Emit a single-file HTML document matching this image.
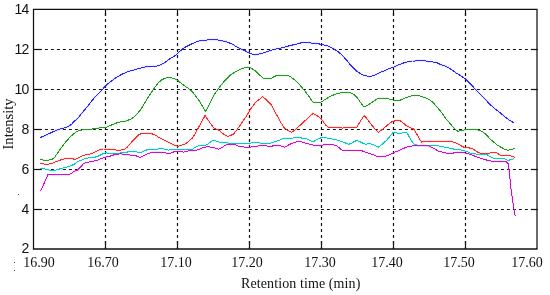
<!DOCTYPE html>
<html><head><meta charset="utf-8"><style>
.yl,.xl,.xt{will-change:transform;}
html,body{margin:0;padding:0;background:#fff;width:550px;height:295px;overflow:hidden;}
svg{position:absolute;left:0;top:0;}
.g{stroke:#111;stroke-width:1.2;stroke-dasharray:3 3;stroke-dashoffset:0.6;}
.gv{stroke-dashoffset:1;}
.t{stroke:#111;stroke-width:1.2;}
.yl{position:absolute;left:0;width:28.6px;text-align:right;font-family:"Liberation Sans",sans-serif;font-size:14px;letter-spacing:-0.8px;line-height:16px;color:#111;}
.xl{position:absolute;top:255px;width:60px;text-align:center;font-family:"Liberation Serif",serif;font-size:14px;line-height:16px;color:#111;}
.xt{position:absolute;left:241px;top:276px;letter-spacing:0.1px;font-family:"Liberation Serif",serif;font-size:14px;line-height:16px;color:#111;white-space:nowrap;}
.yt{position:absolute;left:-18px;top:115.5px;width:51px;transform:rotate(-90deg);transform-origin:center;font-family:"Liberation Serif",serif;font-size:14.6px;line-height:16px;color:#111;white-space:nowrap;text-align:center;}
</style></head><body>
<svg width="550" height="295" viewBox="0 0 550 295">
<line x1="33.5" y1="49.5" x2="537.5" y2="49.5" class="g"/>
<line x1="33.5" y1="49.5" x2="41.5" y2="49.5" class="t"/>
<line x1="531.0" y1="49.5" x2="537.5" y2="49.5" class="t"/>
<line x1="33.5" y1="89.5" x2="537.5" y2="89.5" class="g"/>
<line x1="33.5" y1="89.5" x2="41.5" y2="89.5" class="t"/>
<line x1="531.0" y1="89.5" x2="537.5" y2="89.5" class="t"/>
<line x1="33.5" y1="129.5" x2="537.5" y2="129.5" class="g"/>
<line x1="33.5" y1="129.5" x2="41.5" y2="129.5" class="t"/>
<line x1="531.0" y1="129.5" x2="537.5" y2="129.5" class="t"/>
<line x1="33.5" y1="169.5" x2="537.5" y2="169.5" class="g"/>
<line x1="33.5" y1="169.5" x2="41.5" y2="169.5" class="t"/>
<line x1="531.0" y1="169.5" x2="537.5" y2="169.5" class="t"/>
<line x1="33.5" y1="209.5" x2="537.5" y2="209.5" class="g"/>
<line x1="33.5" y1="209.5" x2="41.5" y2="209.5" class="t"/>
<line x1="531.0" y1="209.5" x2="537.5" y2="209.5" class="t"/>
<line x1="105.5" y1="249.0" x2="105.5" y2="9.4" class="g gv"/>
<line x1="105.5" y1="249.0" x2="105.5" y2="241.0" class="t"/>
<line x1="105.5" y1="9.4" x2="105.5" y2="15.4" class="t"/>
<line x1="177.5" y1="249.0" x2="177.5" y2="9.4" class="g gv"/>
<line x1="177.5" y1="249.0" x2="177.5" y2="241.0" class="t"/>
<line x1="177.5" y1="9.4" x2="177.5" y2="15.4" class="t"/>
<line x1="249.5" y1="249.0" x2="249.5" y2="9.4" class="g gv"/>
<line x1="249.5" y1="249.0" x2="249.5" y2="241.0" class="t"/>
<line x1="249.5" y1="9.4" x2="249.5" y2="15.4" class="t"/>
<line x1="321.5" y1="249.0" x2="321.5" y2="9.4" class="g gv"/>
<line x1="321.5" y1="249.0" x2="321.5" y2="241.0" class="t"/>
<line x1="321.5" y1="9.4" x2="321.5" y2="15.4" class="t"/>
<line x1="393.5" y1="249.0" x2="393.5" y2="9.4" class="g gv"/>
<line x1="393.5" y1="249.0" x2="393.5" y2="241.0" class="t"/>
<line x1="393.5" y1="9.4" x2="393.5" y2="15.4" class="t"/>
<line x1="465.5" y1="249.0" x2="465.5" y2="9.4" class="g gv"/>
<line x1="465.5" y1="249.0" x2="465.5" y2="241.0" class="t"/>
<line x1="465.5" y1="9.4" x2="465.5" y2="15.4" class="t"/>
<path d="M33.5,249.0 V9.4 H537.0 V249.0" fill="none" stroke="#111" stroke-width="1.25"/>
<line x1="32.9" y1="249.0" x2="537.5" y2="249.0" stroke="#111" stroke-width="1.7"/>
<polyline points="40.4,137.5 45.2,135.5 49.9,133.3 55.3,130.7 60.1,129.0 64.2,127.9 68.2,126.5 71.6,124.2 73.1,122.6 78.6,117.2 82.6,112.4 88.1,105.6 93.5,98.8 98.2,94.1 102.3,89.6 105.4,85.9 110.8,81.4 116.3,77.4 121.7,74.4 128.5,71.3 133.9,70.0 139.1,68.5 143.1,67.5 147.9,66.4 152.6,66.2 156.7,66.2 160.1,65.1 164.2,63.1 168.2,60.1 171.6,57.6 173.4,56.8 176.8,54.4 180.2,51.0 184.2,47.6 189.0,45.2 193.1,43.3 197.8,41.1 202.5,40.6 206.6,40.2 209.1,39.5 215.2,39.5 218.6,40.2 225.3,41.5 229.4,42.9 233.5,44.9 237.5,47.4 241.6,49.3 244.1,50.3 248.1,52.4 252.2,54.1 254.9,54.7 259.0,54.1 263.1,53.1 267.1,51.7 271.9,50.1 275.9,49.0 280.4,48.3 285.8,46.7 291.3,45.3 296.7,44.0 302.1,42.6 306.2,42.4 309.6,42.6 311.6,43.3 315.4,43.3 319.5,44.0 323.6,44.9 327.6,46.0 331.7,47.6 335.8,50.1 339.8,53.1 343.9,57.1 347.3,60.9 349.1,63.3 353.1,67.8 357.9,72.1 362.6,74.8 367.4,76.2 370.8,76.5 374.8,75.1 378.9,73.2 382.3,71.4 384.1,71.0 388.1,69.1 392.9,67.4 397.6,65.3 402.4,63.3 407.1,62.0 412.5,61.0 415.0,61.0 419.1,60.6 424.5,60.6 428.6,61.5 432.6,62.0 436.7,62.6 440.8,64.7 444.8,66.0 448.9,68.1 452.5,70.2 456.1,73.1 460.2,75.4 465.1,78.6 470.2,83.7 475.3,89.1 480.3,94.4 485.4,99.5 489.1,103.6 493.8,107.9 498.6,111.5 504.0,116.0 508.7,119.8 511.4,121.4 514.2,122.8" fill="none" stroke="#2a2aff" stroke-opacity="0.15" stroke-width="2.0" stroke-linejoin="round"/>
<polyline points="40.4,137.5 45.2,135.5 49.9,133.3 55.3,130.7 60.1,129.0 64.2,127.9 68.2,126.5 71.6,124.2 73.1,122.6 78.6,117.2 82.6,112.4 88.1,105.6 93.5,98.8 98.2,94.1 102.3,89.6 105.4,85.9 110.8,81.4 116.3,77.4 121.7,74.4 128.5,71.3 133.9,70.0 139.1,68.5 143.1,67.5 147.9,66.4 152.6,66.2 156.7,66.2 160.1,65.1 164.2,63.1 168.2,60.1 171.6,57.6 173.4,56.8 176.8,54.4 180.2,51.0 184.2,47.6 189.0,45.2 193.1,43.3 197.8,41.1 202.5,40.6 206.6,40.2 209.1,39.5 215.2,39.5 218.6,40.2 225.3,41.5 229.4,42.9 233.5,44.9 237.5,47.4 241.6,49.3 244.1,50.3 248.1,52.4 252.2,54.1 254.9,54.7 259.0,54.1 263.1,53.1 267.1,51.7 271.9,50.1 275.9,49.0 280.4,48.3 285.8,46.7 291.3,45.3 296.7,44.0 302.1,42.6 306.2,42.4 309.6,42.6 311.6,43.3 315.4,43.3 319.5,44.0 323.6,44.9 327.6,46.0 331.7,47.6 335.8,50.1 339.8,53.1 343.9,57.1 347.3,60.9 349.1,63.3 353.1,67.8 357.9,72.1 362.6,74.8 367.4,76.2 370.8,76.5 374.8,75.1 378.9,73.2 382.3,71.4 384.1,71.0 388.1,69.1 392.9,67.4 397.6,65.3 402.4,63.3 407.1,62.0 412.5,61.0 415.0,61.0 419.1,60.6 424.5,60.6 428.6,61.5 432.6,62.0 436.7,62.6 440.8,64.7 444.8,66.0 448.9,68.1 452.5,70.2 456.1,73.1 460.2,75.4 465.1,78.6 470.2,83.7 475.3,89.1 480.3,94.4 485.4,99.5 489.1,103.6 493.8,107.9 498.6,111.5 504.0,116.0 508.7,119.8 511.4,121.4 514.2,122.8" fill="none" stroke="#2a2aff" stroke-width="1.0" stroke-linejoin="round" shape-rendering="crispEdges"/>
<polyline points="39.7,158.9 43.1,160.0 47.2,160.3 51.3,159.6 54.0,158.2 56.7,154.2 60.1,149.4 63.5,144.7 66.9,140.6 70.3,136.9 73.4,134.2 76.8,131.4 80.2,130.3 83.6,129.7 89.0,129.4 94.4,128.7 99.2,128.0 103.9,127.6 107.3,126.9 109.1,125.9 113.8,124.2 118.6,122.1 122.6,121.8 126.7,120.8 130.8,119.1 134.2,117.0 138.2,112.6 141.0,109.3 144.1,103.9 147.5,98.5 150.8,93.1 154.2,88.3 157.6,83.6 161.7,79.8 165.8,78.1 169.8,77.5 173.9,78.4 176.6,79.5 179.1,81.6 183.8,85.2 188.6,88.6 192.6,92.0 196.7,97.4 200.1,102.1 202.8,106.9 205.5,111.3 208.2,106.9 211.5,99.8 214.7,93.9 218.1,89.2 222.2,83.7 226.3,79.0 230.3,75.2 235.1,71.9 239.8,69.5 243.9,67.9 247.3,67.1 250.0,67.5 252.1,68.8 256.1,71.5 259.5,74.9 262.9,78.0 267.0,78.3 271.1,78.3 274.4,76.5 277.2,75.2 281.9,75.2 285.0,75.4 289.1,76.1 292.5,78.1 295.8,80.8 299.2,84.2 302.6,88.3 306.0,92.4 309.4,97.1 312.8,101.9 316.2,102.5 320.5,102.5 324.1,100.1 328.1,97.6 332.9,95.2 337.6,93.6 342.4,92.6 347.1,92.5 350.5,92.9 353.9,94.6 356.6,96.9 359.7,101.3 363.8,107.0 367.9,105.1 372.6,102.0 378.1,98.2 382.1,98.2 386.9,98.3 390.5,99.4 393.4,100.2 400.2,100.2 404.2,98.3 409.0,96.5 414.4,95.2 419.8,95.8 423.9,97.2 427.3,98.6 430.0,99.8 433.8,103.4 437.9,107.9 442.0,113.3 446.0,118.7 450.1,123.5 454.2,128.2 457.5,131.1 460.9,130.8 464.7,129.9 469.5,129.2 474.9,129.2 479.0,130.2 483.1,132.0 486.4,134.7 489.8,138.7 493.9,142.3 497.3,145.1 500.0,146.7 504.2,149.0 507.7,150.4 510.3,149.7 512.3,149.2 514.3,148.1" fill="none" stroke="#259a25" stroke-opacity="0.15" stroke-width="2.0" stroke-linejoin="round"/>
<polyline points="39.7,158.9 43.1,160.0 47.2,160.3 51.3,159.6 54.0,158.2 56.7,154.2 60.1,149.4 63.5,144.7 66.9,140.6 70.3,136.9 73.4,134.2 76.8,131.4 80.2,130.3 83.6,129.7 89.0,129.4 94.4,128.7 99.2,128.0 103.9,127.6 107.3,126.9 109.1,125.9 113.8,124.2 118.6,122.1 122.6,121.8 126.7,120.8 130.8,119.1 134.2,117.0 138.2,112.6 141.0,109.3 144.1,103.9 147.5,98.5 150.8,93.1 154.2,88.3 157.6,83.6 161.7,79.8 165.8,78.1 169.8,77.5 173.9,78.4 176.6,79.5 179.1,81.6 183.8,85.2 188.6,88.6 192.6,92.0 196.7,97.4 200.1,102.1 202.8,106.9 205.5,111.3 208.2,106.9 211.5,99.8 214.7,93.9 218.1,89.2 222.2,83.7 226.3,79.0 230.3,75.2 235.1,71.9 239.8,69.5 243.9,67.9 247.3,67.1 250.0,67.5 252.1,68.8 256.1,71.5 259.5,74.9 262.9,78.0 267.0,78.3 271.1,78.3 274.4,76.5 277.2,75.2 281.9,75.2 285.0,75.4 289.1,76.1 292.5,78.1 295.8,80.8 299.2,84.2 302.6,88.3 306.0,92.4 309.4,97.1 312.8,101.9 316.2,102.5 320.5,102.5 324.1,100.1 328.1,97.6 332.9,95.2 337.6,93.6 342.4,92.6 347.1,92.5 350.5,92.9 353.9,94.6 356.6,96.9 359.7,101.3 363.8,107.0 367.9,105.1 372.6,102.0 378.1,98.2 382.1,98.2 386.9,98.3 390.5,99.4 393.4,100.2 400.2,100.2 404.2,98.3 409.0,96.5 414.4,95.2 419.8,95.8 423.9,97.2 427.3,98.6 430.0,99.8 433.8,103.4 437.9,107.9 442.0,113.3 446.0,118.7 450.1,123.5 454.2,128.2 457.5,131.1 460.9,130.8 464.7,129.9 469.5,129.2 474.9,129.2 479.0,130.2 483.1,132.0 486.4,134.7 489.8,138.7 493.9,142.3 497.3,145.1 500.0,146.7 504.2,149.0 507.7,150.4 510.3,149.7 512.3,149.2 514.3,148.1" fill="none" stroke="#259a25" stroke-width="1.0" stroke-linejoin="round" shape-rendering="crispEdges"/>
<polyline points="40.4,163.1 44.5,164.2 48.6,164.2 52.6,163.1 56.7,161.5 61.4,159.7 66.2,158.4 71.6,158.4 74.7,159.4 78.1,158.1 82.2,156.0 86.3,154.7 90.3,154.0 94.4,152.4 98.5,150.2 102.5,149.0 110.4,149.1 114.5,149.7 117.2,150.4 120.6,150.1 124.0,149.4 126.7,147.8 129.4,144.7 132.1,141.5 135.5,137.9 138.9,134.8 141.6,133.4 145.4,133.1 150.8,133.4 154.9,134.8 159.0,137.5 163.7,139.9 168.5,142.4 173.2,144.7 177.5,146.3 181.1,145.5 185.2,143.9 189.2,140.9 192.6,137.8 195.3,133.7 198.1,128.3 201.4,122.2 205.1,115.4 208.2,120.2 211.3,124.5 214.1,128.3 218.1,129.6 221.5,132.4 224.9,135.1 227.6,136.4 230.3,135.6 233.7,134.0 236.4,130.6 239.2,126.5 242.5,121.8 245.5,117.6 247.7,114.1 251.1,108.3 255.8,102.2 259.2,99.5 262.6,96.5 266.7,100.2 270.8,104.2 274.2,110.3 277.5,116.4 280.9,122.5 284.3,128.0 288.1,130.5 291.5,132.4 294.9,130.1 298.3,126.7 301.7,124.0 305.1,120.6 309.2,116.9 313.2,113.3 316.6,115.4 321.1,118.6 323.8,122.4 325.8,125.1 327.9,127.0 332.6,127.0 338.7,127.4 342.1,128.1 346.2,127.4 356.8,127.2 360.2,121.6 364.2,115.5 367.6,119.5 371.7,125.0 375.1,129.0 378.5,132.4 381.9,129.7 385.3,127.0 388.4,124.2 391.8,121.8 395.2,120.8 398.6,120.1 402.0,121.8 405.3,124.9 408.7,126.9 412.1,128.3 414.2,129.4 416.9,134.4 419.6,139.1 421.6,142.1 425.4,141.3 450.5,141.3 455.3,142.6 458.4,144.2 461.8,146.1 465.2,147.9 468.6,147.9 471.9,148.3 475.3,150.6 478.7,152.9 482.1,153.3 485.5,154.0 488.2,153.7 490.9,152.6 495.0,152.6 497.5,153.2 500.1,155.1 503.1,155.3 509.2,155.6 511.8,156.3 513.8,156.8 514.8,157.5" fill="none" stroke="#ff2a2a" stroke-opacity="0.15" stroke-width="2.0" stroke-linejoin="round"/>
<polyline points="40.4,163.1 44.5,164.2 48.6,164.2 52.6,163.1 56.7,161.5 61.4,159.7 66.2,158.4 71.6,158.4 74.7,159.4 78.1,158.1 82.2,156.0 86.3,154.7 90.3,154.0 94.4,152.4 98.5,150.2 102.5,149.0 110.4,149.1 114.5,149.7 117.2,150.4 120.6,150.1 124.0,149.4 126.7,147.8 129.4,144.7 132.1,141.5 135.5,137.9 138.9,134.8 141.6,133.4 145.4,133.1 150.8,133.4 154.9,134.8 159.0,137.5 163.7,139.9 168.5,142.4 173.2,144.7 177.5,146.3 181.1,145.5 185.2,143.9 189.2,140.9 192.6,137.8 195.3,133.7 198.1,128.3 201.4,122.2 205.1,115.4 208.2,120.2 211.3,124.5 214.1,128.3 218.1,129.6 221.5,132.4 224.9,135.1 227.6,136.4 230.3,135.6 233.7,134.0 236.4,130.6 239.2,126.5 242.5,121.8 245.5,117.6 247.7,114.1 251.1,108.3 255.8,102.2 259.2,99.5 262.6,96.5 266.7,100.2 270.8,104.2 274.2,110.3 277.5,116.4 280.9,122.5 284.3,128.0 288.1,130.5 291.5,132.4 294.9,130.1 298.3,126.7 301.7,124.0 305.1,120.6 309.2,116.9 313.2,113.3 316.6,115.4 321.1,118.6 323.8,122.4 325.8,125.1 327.9,127.0 332.6,127.0 338.7,127.4 342.1,128.1 346.2,127.4 356.8,127.2 360.2,121.6 364.2,115.5 367.6,119.5 371.7,125.0 375.1,129.0 378.5,132.4 381.9,129.7 385.3,127.0 388.4,124.2 391.8,121.8 395.2,120.8 398.6,120.1 402.0,121.8 405.3,124.9 408.7,126.9 412.1,128.3 414.2,129.4 416.9,134.4 419.6,139.1 421.6,142.1 425.4,141.3 450.5,141.3 455.3,142.6 458.4,144.2 461.8,146.1 465.2,147.9 468.6,147.9 471.9,148.3 475.3,150.6 478.7,152.9 482.1,153.3 485.5,154.0 488.2,153.7 490.9,152.6 495.0,152.6 497.5,153.2 500.1,155.1 503.1,155.3 509.2,155.6 511.8,156.3 513.8,156.8 514.8,157.5" fill="none" stroke="#ff2a2a" stroke-width="1.0" stroke-linejoin="round" shape-rendering="crispEdges"/>
<polyline points="40.4,168.6 44.5,168.8 48.6,169.9 52.6,171.0 56.7,169.9 60.8,168.6 64.8,167.5 68.9,166.5 73.0,164.8 75.0,163.8 78.1,161.4 82.2,159.8 86.3,158.3 90.3,157.4 94.4,157.4 98.5,156.0 102.5,154.0 105.3,152.9 113.1,153.3 118.6,153.2 122.6,152.8 126.7,152.1 130.8,151.6 134.2,151.4 137.5,152.1 140.9,152.6 144.1,151.0 148.1,149.4 153.6,149.4 157.6,149.1 161.0,148.3 164.4,149.1 168.5,150.1 172.5,149.7 176.6,149.4 192.6,149.3 195.3,147.3 198.7,145.5 205.5,145.5 208.2,143.9 211.6,141.2 213.4,140.1 216.1,141.2 219.5,142.1 224.9,142.8 231.7,143.2 236.5,143.5 249.6,143.5 252.9,142.4 258.4,142.4 260.5,143.3 270.3,143.3 273.6,142.2 278.0,140.7 282.3,139.0 285.6,138.2 290.8,138.1 297.6,137.8 305.1,138.2 309.2,140.0 313.2,141.9 316.6,139.6 320.0,138.2 322.5,137.3 325.8,137.8 329.9,138.6 335.3,139.6 340.1,140.9 344.8,142.7 348.9,144.3 352.3,142.7 356.8,140.3 360.2,141.9 363.6,143.5 366.3,144.3 369.7,143.3 374.1,145.2 378.1,147.2 382.2,144.2 386.3,140.6 390.4,135.8 393.1,132.3 396.5,133.0 399.9,133.4 403.3,132.6 406.7,132.3 409.4,137.1 412.1,141.6 414.2,144.5 417.5,145.2 421.6,145.6 429.5,145.9 432.9,145.4 437.6,145.6 442.4,146.7 447.1,147.7 451.9,148.6 455.5,149.5 459.1,149.9 463.1,150.2 466.5,151.5 469.9,152.9 474.0,153.7 478.1,154.3 486.2,154.3 490.3,156.7 493.0,158.1 495.0,158.3 500.1,158.5 504.2,158.8 507.2,160.1 509.2,160.1 511.3,159.3 514.3,158.8" fill="none" stroke="#08c8c8" stroke-opacity="0.15" stroke-width="2.0" stroke-linejoin="round"/>
<polyline points="40.4,168.6 44.5,168.8 48.6,169.9 52.6,171.0 56.7,169.9 60.8,168.6 64.8,167.5 68.9,166.5 73.0,164.8 75.0,163.8 78.1,161.4 82.2,159.8 86.3,158.3 90.3,157.4 94.4,157.4 98.5,156.0 102.5,154.0 105.3,152.9 113.1,153.3 118.6,153.2 122.6,152.8 126.7,152.1 130.8,151.6 134.2,151.4 137.5,152.1 140.9,152.6 144.1,151.0 148.1,149.4 153.6,149.4 157.6,149.1 161.0,148.3 164.4,149.1 168.5,150.1 172.5,149.7 176.6,149.4 192.6,149.3 195.3,147.3 198.7,145.5 205.5,145.5 208.2,143.9 211.6,141.2 213.4,140.1 216.1,141.2 219.5,142.1 224.9,142.8 231.7,143.2 236.5,143.5 249.6,143.5 252.9,142.4 258.4,142.4 260.5,143.3 270.3,143.3 273.6,142.2 278.0,140.7 282.3,139.0 285.6,138.2 290.8,138.1 297.6,137.8 305.1,138.2 309.2,140.0 313.2,141.9 316.6,139.6 320.0,138.2 322.5,137.3 325.8,137.8 329.9,138.6 335.3,139.6 340.1,140.9 344.8,142.7 348.9,144.3 352.3,142.7 356.8,140.3 360.2,141.9 363.6,143.5 366.3,144.3 369.7,143.3 374.1,145.2 378.1,147.2 382.2,144.2 386.3,140.6 390.4,135.8 393.1,132.3 396.5,133.0 399.9,133.4 403.3,132.6 406.7,132.3 409.4,137.1 412.1,141.6 414.2,144.5 417.5,145.2 421.6,145.6 429.5,145.9 432.9,145.4 437.6,145.6 442.4,146.7 447.1,147.7 451.9,148.6 455.5,149.5 459.1,149.9 463.1,150.2 466.5,151.5 469.9,152.9 474.0,153.7 478.1,154.3 486.2,154.3 490.3,156.7 493.0,158.1 495.0,158.3 500.1,158.5 504.2,158.8 507.2,160.1 509.2,160.1 511.3,159.3 514.3,158.8" fill="none" stroke="#08c8c8" stroke-width="1.0" stroke-linejoin="round" shape-rendering="crispEdges"/>
<polyline points="40.4,191.3 43.1,185.5 45.8,179.4 47.9,174.7 62.1,174.7 69.6,174.4 72.3,172.6 75.0,171.0 77.5,170.0 80.2,167.5 83.6,163.5 87.6,162.4 91.7,161.4 95.8,160.8 99.2,159.4 102.5,158.1 105.9,157.0 109.1,156.5 113.1,155.1 117.2,154.2 121.3,153.7 124.0,154.8 132.1,155.1 136.2,155.9 140.3,157.5 143.6,155.9 148.8,153.2 153.6,152.1 159.0,152.1 164.4,152.4 167.1,153.5 169.8,153.5 173.2,152.1 176.6,151.2 180.0,151.0 183.6,152.1 189.0,150.8 197.1,150.1 202.1,148.0 207.5,146.6 211.6,147.3 215.4,148.2 218.8,149.2 222.2,147.5 225.6,145.1 229.0,144.2 235.5,144.7 237.6,145.8 240.9,146.6 246.4,147.4 249.6,147.4 252.9,146.6 256.2,146.4 260.5,145.3 264.9,145.5 268.2,146.4 271.4,146.4 274.7,145.3 279.1,145.5 282.3,146.4 284.5,147.4 286.7,146.1 290.0,144.2 293.6,142.7 299.0,141.3 303.1,142.3 307.1,143.6 312.5,145.0 320.6,145.7 325.7,144.3 330.8,144.5 335.3,145.3 337.5,146.4 341.8,150.0 347.3,150.2 359.3,150.2 363.6,151.3 369.1,153.6 373.1,154.5 377.1,156.4 385.3,156.4 388.3,155.2 392.4,153.3 396.5,151.5 400.5,149.8 404.6,148.0 406.6,147.2 412.1,145.9 428.8,145.9 433.6,148.3 438.3,151.1 443.1,152.4 448.5,153.5 453.2,153.1 456.6,152.1 460.4,152.0 464.5,152.9 468.6,154.0 472.6,155.1 476.7,157.0 480.8,158.3 484.8,159.4 488.9,160.8 493.0,161.3 501.0,161.2 504.2,161.5 506.7,162.0 508.3,164.0 509.1,170.2 510.2,180.3 511.2,190.5 512.7,200.5 513.9,208.8 515.2,216.0" fill="none" stroke="#cc10cc" stroke-opacity="0.15" stroke-width="2.0" stroke-linejoin="round"/>
<polyline points="40.4,191.3 43.1,185.5 45.8,179.4 47.9,174.7 62.1,174.7 69.6,174.4 72.3,172.6 75.0,171.0 77.5,170.0 80.2,167.5 83.6,163.5 87.6,162.4 91.7,161.4 95.8,160.8 99.2,159.4 102.5,158.1 105.9,157.0 109.1,156.5 113.1,155.1 117.2,154.2 121.3,153.7 124.0,154.8 132.1,155.1 136.2,155.9 140.3,157.5 143.6,155.9 148.8,153.2 153.6,152.1 159.0,152.1 164.4,152.4 167.1,153.5 169.8,153.5 173.2,152.1 176.6,151.2 180.0,151.0 183.6,152.1 189.0,150.8 197.1,150.1 202.1,148.0 207.5,146.6 211.6,147.3 215.4,148.2 218.8,149.2 222.2,147.5 225.6,145.1 229.0,144.2 235.5,144.7 237.6,145.8 240.9,146.6 246.4,147.4 249.6,147.4 252.9,146.6 256.2,146.4 260.5,145.3 264.9,145.5 268.2,146.4 271.4,146.4 274.7,145.3 279.1,145.5 282.3,146.4 284.5,147.4 286.7,146.1 290.0,144.2 293.6,142.7 299.0,141.3 303.1,142.3 307.1,143.6 312.5,145.0 320.6,145.7 325.7,144.3 330.8,144.5 335.3,145.3 337.5,146.4 341.8,150.0 347.3,150.2 359.3,150.2 363.6,151.3 369.1,153.6 373.1,154.5 377.1,156.4 385.3,156.4 388.3,155.2 392.4,153.3 396.5,151.5 400.5,149.8 404.6,148.0 406.6,147.2 412.1,145.9 428.8,145.9 433.6,148.3 438.3,151.1 443.1,152.4 448.5,153.5 453.2,153.1 456.6,152.1 460.4,152.0 464.5,152.9 468.6,154.0 472.6,155.1 476.7,157.0 480.8,158.3 484.8,159.4 488.9,160.8 493.0,161.3 501.0,161.2 504.2,161.5 506.7,162.0 508.3,164.0 509.1,170.2 510.2,180.3 511.2,190.5 512.7,200.5 513.9,208.8 515.2,216.0" fill="none" stroke="#cc10cc" stroke-width="1.0" stroke-linejoin="round" shape-rendering="crispEdges"/>
</svg>
<div class="yl" style="top:0.8px">14</div>
<div class="yl" style="top:40.8px">12</div>
<div class="yl" style="top:80.8px">10</div>
<div class="yl" style="top:120.8px">8</div>
<div class="yl" style="top:160.8px">6</div>
<div class="yl" style="top:200.8px">4</div>
<div class="yl" style="top:239.8px">2</div>
<div class="xl" style="left:9.4px">16.90</div>
<div class="xl" style="left:73.2px">16.70</div>
<div class="xl" style="left:145.7px">17.10</div>
<div class="xl" style="left:217.2px">17.20</div>
<div class="xl" style="left:289.5px">17.30</div>
<div class="xl" style="left:357.4px">17.40</div>
<div class="xl" style="left:429.4px">17.50</div>
<div class="xl" style="left:497.3px">17.60</div>
<div class="xt">Retention time (min)</div>
<div class="yt">Intensity</div>
<div style="position:absolute;left:18px;top:193.8px;width:1.2px;height:1.2px;background:#666"></div><div style="position:absolute;left:13.8px;top:261.7px;width:1.3px;height:1.3px;background:#555"></div><div style="position:absolute;left:13.8px;top:269.6px;width:1.3px;height:1.3px;background:#555"></div>
</body></html>
